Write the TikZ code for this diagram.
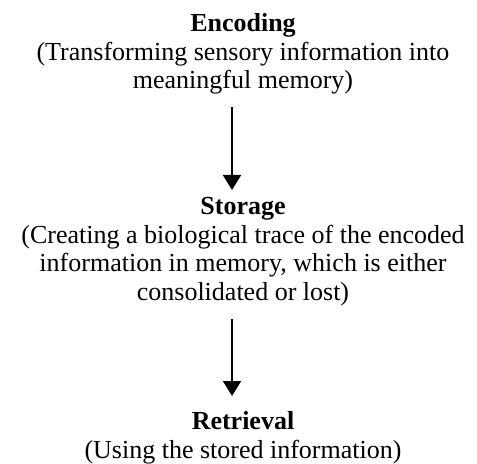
\documentclass[tikz,border=0pt]{standalone}
\usepackage{fontspec}
\setmainfont{Liberation Serif}
\usetikzlibrary{arrows.meta}
\begin{document}
\begin{tikzpicture}[x=1bp,y=1bp,
  block/.style={align=center, inner sep=0pt, anchor=north, font=\fontsize{26bp}{28.5bp}\selectfont},
  arr/.style={line width=2bp, -{Triangle[width=18bp,length=15bp]}}]
\useasboundingbox (0,0) rectangle (477,-464);
\node[block] (enc) at (243,-13.4) {\textbf{Encoding}\\(Transforming sensory information into\\meaningful memory)};
\node[block] (sto) at (243,-197.4) {\textbf{Storage}\\(Creating a biological trace of the encoded\\information in memory, which is either\\consolidated or lost)};
\node[block] (ret) at (243,-411.4) {\textbf{Retrieval}\\(Using the stored information)};
\draw[arr] ([xshift=-11bp,yshift=-13bp]enc.south) -- ([xshift=-11bp,yshift=7.4bp]sto.north);
\draw[arr] ([xshift=-11bp,yshift=-13bp]sto.south) -- ([xshift=-11bp,yshift=15.4bp]ret.north);
\end{tikzpicture}
\end{document}
